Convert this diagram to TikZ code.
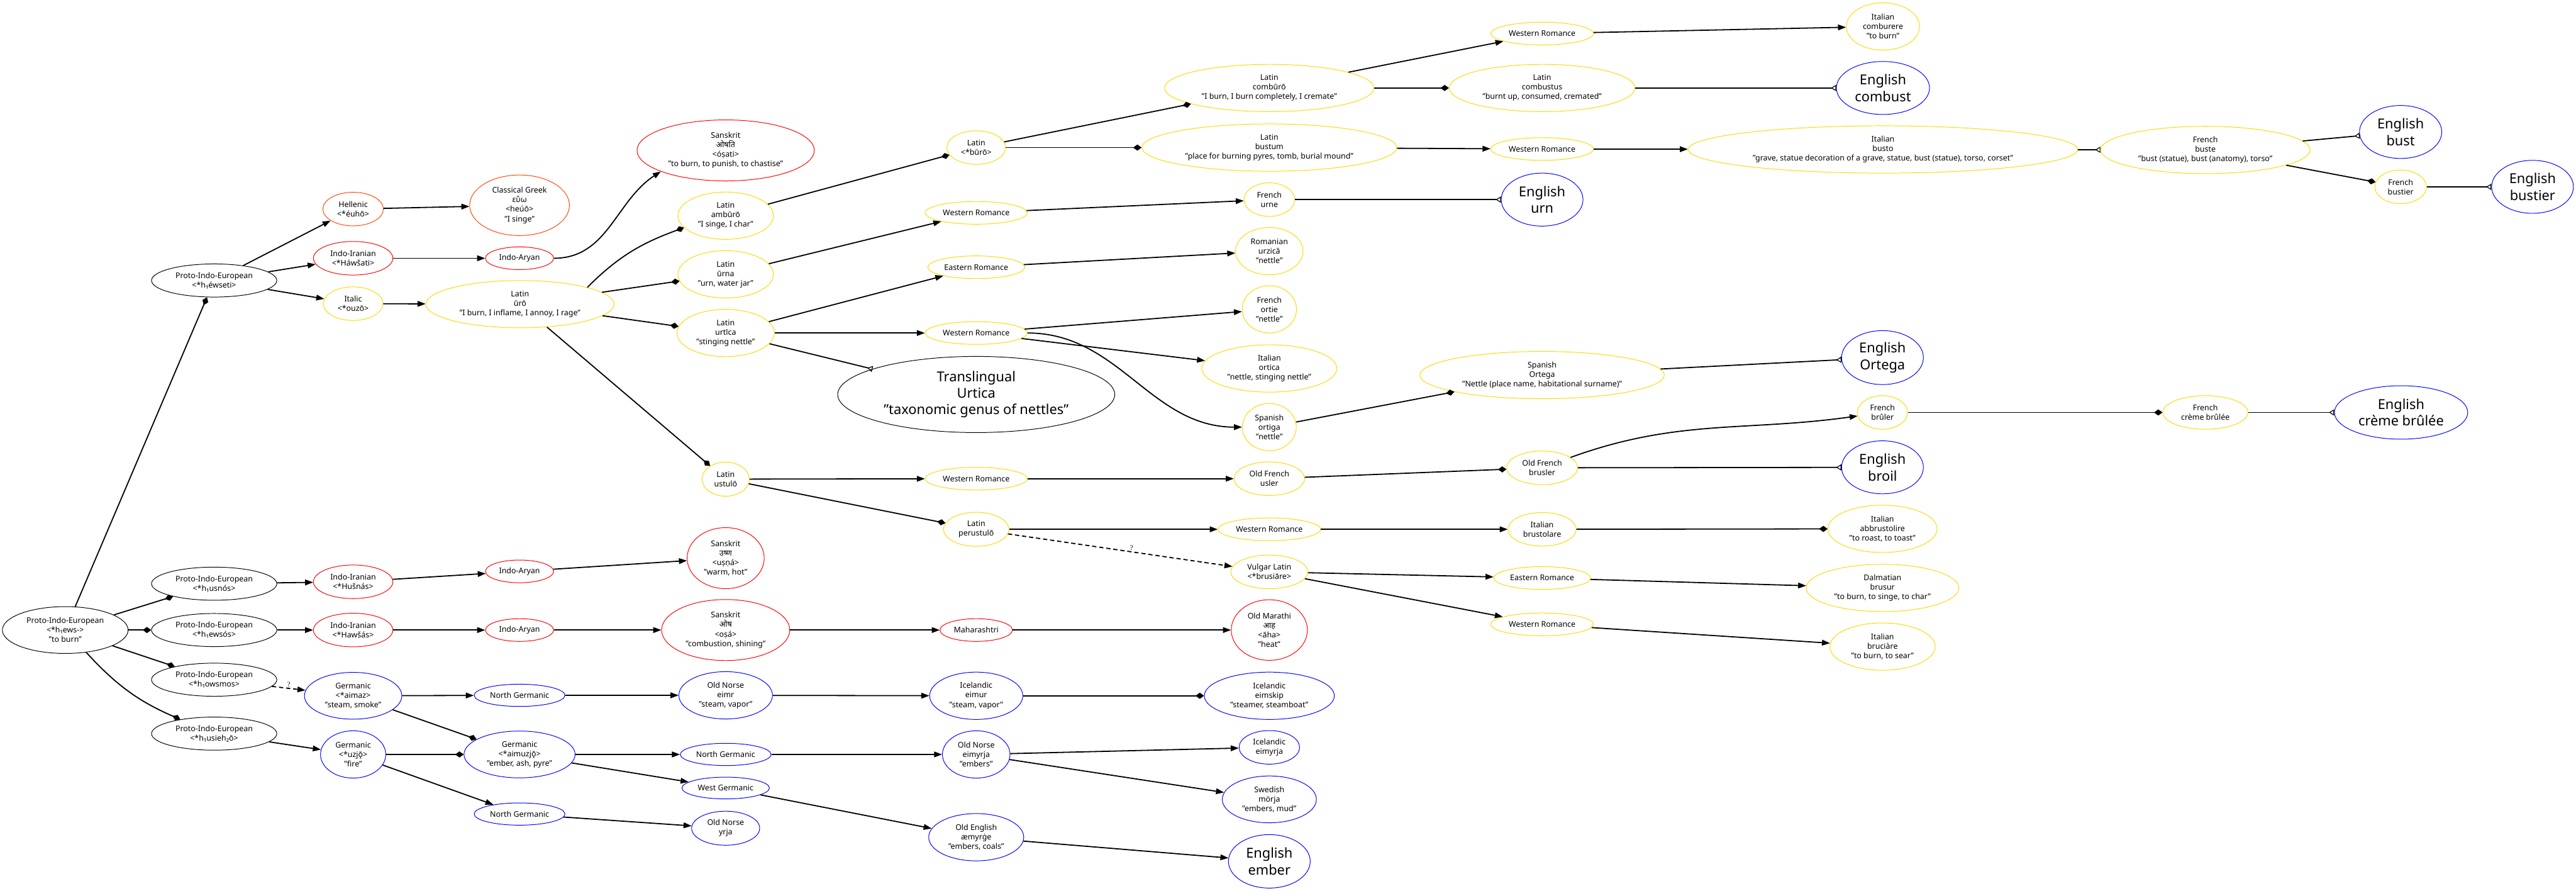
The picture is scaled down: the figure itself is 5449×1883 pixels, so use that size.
\documentclass[tikz,border=0pt]{standalone}
\usepackage{fontspec}
\setmainfont{Noto Sans}
\newfontfamily\devafont[Script=Devanagari]{Noto Sans}
\newfontfamily\qfont{Liberation Serif}
\usepackage{tikz}
\usetikzlibrary{
  arrows.meta,
  shapes.geometric
}
\definecolor{orangered}{HTML}{FF4500}
\definecolor{gold}{HTML}{FFD700}
\tikzset{
  lang/.style={
    ellipse,
    draw,
    line width=1.3pt,
    inner sep=1pt,
    align=center,
    font=\fontsize{16.5}{20}\selectfont
  },
  wh/.style 2 args={
    minimum width=#1pt,
    minimum height=#2pt
  },
  proto/.style={lang, draw=black},
  hel/.style={lang, draw=orangered},
  iir/.style={lang, draw=red},
  itc/.style={lang, draw=gold},
  gem/.style={lang, draw=blue},
  eng/.style={
    gem,
    font=\fontsize{29}{35}\selectfont
  },
  inh/.style={
    -{Triangle[length=17pt, width=12pt]},
    line width=2.4pt
  },
  der/.style={
    -{Diamond[length=18pt, width=13pt]},
    line width=2.4pt
  },
  bor/.style={
    -{Triangle[open, reversed, length=11pt, width=13pt, line width=1.6pt]},
    line width=2.4pt
  },
  unc/.style={
    inh,
    dash pattern=on 9pt off 6pt
  },
  qmark/.style={
    font=\qfont\fontsize{15}{15}\selectfont,
    inner sep=2pt
  }
}

\begin{document}
\begin{tikzpicture}[x=1pt,y=-1pt]
  \useasboundingbox (0,0) rectangle (5449,1883);

  % Proto-Indo-European roots.
  \node[proto, wh={266}{99}] (root) at (138,1332)
    {Proto-Indo-European\\<*h₁ews->\\"to burn"};
  \node[proto, wh={265}{70}] (pie1) at (453,593)
    {Proto-Indo-European\\<*h₁éwseti>};
  \node[proto, wh={265}{70}] (pie2) at (453,1234)
    {Proto-Indo-European\\<*h₁usnós>};
  \node[proto, wh={265}{70}] (pie3) at (453,1332)
    {Proto-Indo-European\\<*h₁ewsós>};
  \node[proto, wh={265}{70}] (pie4) at (453,1437)
    {Proto-Indo-European\\<*h₁owsmos>};
  \node[proto, wh={265}{70}] (pie5) at (453,1551)
    {Proto-Indo-European\\<*h₁usieh₂ō>};

  % Branch stems.
  \node[hel, wh={128}{71}] (hellenic) at (747,442) {Hellenic\\<*éuhō>};
  \node[iir, wh={168}{71}] (indoiran1) at (747,546) {Indo-Iranian\\<*Háwšati>};
  \node[itc, wh={126}{71}] (italic) at (747,642) {Italic\\<*ouzō>};
  \node[iir, wh={168}{71}] (indoiran2) at (747,1230) {Indo-Iranian\\<*Hušnás>};
  \node[iir, wh={168}{71}] (indoiran3) at (747,1332) {Indo-Iranian\\<*Hawšás>};
  \node[gem, wh={206}{99}] (germ1) at (747,1471)
    {Germanic\\<*aimaz>\\"steam, smoke"};
  \node[gem, wh={138}{100}] (germ2) at (747,1595)
    {Germanic\\<*uzjǭ>\\"fire"};

  % Third column.
  \node[hel, wh={211}{128}] (greek) at (1099,434)
    {Classical Greek\\εὕω\\<heúō>\\"I singe"};
  \node[iir, wh={144}{48}] (indoaryan1) at (1099,546) {Indo-Aryan};
  \node[itc, wh={398}{100}] (uro) at (1100,643)
    {Latin\\ūrō\\"I burn, I inflame, I annoy, I rage"};
  \node[iir, wh={144}{48}] (indoaryan2) at (1099,1208) {Indo-Aryan};
  \node[iir, wh={144}{48}] (indoaryan3) at (1099,1332) {Indo-Aryan};
  \node[gem, wh={192}{47}] (norgerm1) at (1099,1470) {North Germanic};
  \node[gem, wh={235}{99}] (germ3) at (1099,1595)
    {Germanic\\<*aimuzjǭ>\\"ember, ash, pyre"};
  \node[gem, wh={192}{47}] (norgerm3) at (1099,1721) {North Germanic};

  % Fourth column.
  \node[iir, wh={375}{129}] (sans1) at (1535,318)
    {Sanskrit\\{\devafont ओषति}\\<óṣati>\\"to burn, to punish, to chastise"};
  \node[itc, wh={202}{100}] (amburo) at (1535,456)
    {Latin\\ambūrō\\"I singe, I char"};
  \node[itc, wh={202}{100}] (urna) at (1535,580)
    {Latin\\ūrna\\"urn, water jar"};
  \node[itc, wh={206}{100}] (urtica) at (1535,704)
    {Latin\\urtīca\\"stinging nettle"};
  \node[itc, wh={100}{72}] (ustulo) at (1535,1013) {Latin\\ustulō};
  \node[iir, wh={163}{129}] (sans2) at (1535,1180)
    {Sanskrit\\{\devafont उष्ण}\\<uṣṇá>\\"warm, hot"};
  \node[iir, wh={271}{129}] (sans3) at (1535,1332)
    {Sanskrit\\{\devafont ओष}\\<oṣá>\\"combustion, shining"};
  \node[gem, wh={198}{100}] (oneimr) at (1535,1470)
    {Old Norse\\eimr\\"steam, vapor"};
  \node[gem, wh={192}{47}] (norgerm2) at (1535,1595) {North Germanic};
  \node[gem, wh={185}{46}] (westgerm) at (1535,1666) {West Germanic};
  \node[gem, wh={144}{72}] (onyrja) at (1535,1751) {Old Norse\\yrja};

  % Fifth column.
  \node[itc, wh={124}{71}] (buro) at (2065,312) {Latin\\<*būrō>};
  \node[itc, wh={216}{48}] (wrom1) at (2065,450) {Western Romance};
  \node[itc, wh={205}{48}] (erom1) at (2065,565) {Eastern Romance};
  \node[itc, wh={216}{48}] (wrom2) at (2065,704) {Western Romance};
  \node[lang, wh={586}{161}, font=\fontsize{29}{35}\selectfont] (trans)
    at (2065,834) {Translingual\\Urtica\\"taxonomic genus of nettles"};
  \node[itc, wh={216}{48}] (wrom3) at (2065,1012) {Western Romance};
  \node[itc, wh={138}{72}] (perustulo) at (2065,1119) {Latin\\perustulō};
  \node[iir, wh={153}{48}] (mahar) at (2065,1332) {Maharashtri};
  \node[gem, wh={197}{100}] (iceimur) at (2065,1471)
    {Icelandic\\eimur\\"steam, vapor"};
  \node[gem, wh={143}{100}] (oneimyrja) at (2065,1595)
    {Old Norse\\eimyrja\\"embers"};
  \node[gem, wh={201}{100}] (oeaemyrge) at (2065,1770)
    {Old English\\æmyrġe\\"embers, coals"};

  % Sixth column.
  \node[itc, wh={443}{100}] (comburo) at (2685,186)
    {Latin\\combūrō\\"I burn, I burn completely, I cremate"};
  \node[itc, wh={539}{100}] (bustum) at (2685,312)
    {Latin\\bustum\\"place for burning pyres, tomb, burial mound"};
  \node[itc, wh={107}{71}] (frurne) at (2685,422) {French\\urne};
  \node[itc, wh={143}{100}] (rourzica) at (2685,531)
    {Romanian\\urzică\\"nettle"};
  \node[itc, wh={115}{100}] (frortie) at (2685,654)
    {French\\ortie\\"nettle"};
  \node[itc, wh={286}{100}] (itortica) at (2685,779)
    {Italian\\ortica\\"nettle, stinging nettle"};
  \node[itc, wh={114}{100}] (esortiga) at (2685,903)
    {Spanish\\ortiga\\"nettle"};
  \node[itc, wh={149}{71}] (ofusler) at (2685,1012) {Old French\\usler};
  \node[itc, wh={217}{48}] (wrom4) at (2685,1119) {Western Romance};
  \node[itc, wh={163}{71}] (vlbrusiare) at (2685,1209)
    {Vulgar Latin\\<*brusiāre>};
  \node[iir, wh={161}{128}] (omarathi) at (2685,1332)
    {Old Marathi\\{\devafont आह}\\<āha>\\"heat"};
  \node[gem, wh={275}{100}] (iceimskip) at (2685,1471)
    {Icelandic\\eimskip\\"steamer, steamboat"};
  \node[gem, wh={128}{71}] (iceimyrja) at (2685,1580) {Icelandic\\eimyrja};
  \node[gem, wh={199}{99}] (swmorja) at (2685,1690)
    {Swedish\\mörja\\"embers, mud"};
  \node[eng, wh={173}{113}] (enember) at (2685,1821) {English\\ember};

  % Seventh column.
  \node[itc, wh={217}{48}] (wrom6) at (3262,71) {Western Romance};
  \node[itc, wh={393}{100}] (combustus) at (3262,186)
    {Latin\\combustus\\"burnt up, consumed, cremated"};
  \node[itc, wh={217}{48}] (wrom7) at (3262,315) {Western Romance};
  \node[eng, wh={173}{112}] (enurn) at (3262,422) {English\\urn};
  \node[itc, wh={517}{100}] (esortega) at (3262,793)
    {Spanish\\Ortega\\"Nettle (place name, habitational surname)"};
  \node[itc, wh={150}{71}] (ofbrusler) at (3262,989) {Old French\\brusler};
  \node[itc, wh={144}{71}] (itbrustolare) at (3262,1119)
    {Italian\\brustolare};
  \node[itc, wh={205}{48}] (erom2) at (3262,1222) {Eastern Romance};
  \node[itc, wh={217}{48}] (wrom5) at (3262,1320) {Western Romance};

  % Eighth column.
  \node[itc, wh={155}{100}] (itcomburere) at (3983,56)
    {Italian\\comburere\\"to burn"};
  \node[eng, wh={197}{112}] (encombust) at (3983,186) {English\\combust};
  \node[itc, wh={824}{100}] (itbusto) at (3983,316)
    {Italian\\busto\\"grave, statue decoration of a grave, statue, bust (statue), torso, corset"};
  \node[eng, wh={173}{114}] (enortega) at (3982,756) {English\\Ortega};
  \node[itc, wh={106}{71}] (frbruler) at (3982,872) {French\\brûler};
  \node[eng, wh={173}{112}] (enbroil) at (3982,988) {English\\broil};
  \node[itc, wh={231}{100}] (itabbrust) at (3982,1118)
    {Italian\\abbrustolire\\"to roast, to toast"};
  \node[itc, wh={323}{100}] (dalbrusur) at (3982,1243)
    {Dalmatian\\brusur\\"to burn, to singe, to char"};
  \node[itc, wh={223}{100}] (itbruciare) at (3982,1367)
    {Italian\\bruciàre\\"to burn, to sear"};

  % Last columns.
  \node[itc, wh={443}{100}] (frbuste) at (4665,317)
    {French\\buste\\"bust (statue), bust (anatomy), torso"};
  \node[itc, wh={180}{71}] (frcreme) at (4665,872) {French\\crème brûlée};
  \node[eng, wh={174}{112}] (enbust) at (5078,279) {English\\bust};
  \node[itc, wh={109}{71}] (frbustier) at (5078,395) {French\\bustier};
  \node[eng, wh={282}{113}] (encreme) at (5079,872) {English\\crème brûlée};
  \node[eng, wh={173}{112}] (enbustier) at (5357,395) {English\\bustier};

  % Root derivations.
  \draw[der] (root) -- (pie1);
  \draw[der] (root) -- (pie2);
  \draw[der] (root) -- (pie3);
  \draw[der] (root) -- (pie4);
  \draw[der] (root) to[bend right=12] (pie5);

  % Hellenic, Indo-Iranian, Italic.
  \draw[inh] (pie1) -- (hellenic);
  \draw[inh] (pie1) -- (indoiran1);
  \draw[inh] (pie1) -- (italic);
  \draw[inh] (hellenic) -- (greek);
  \draw[inh] (indoiran1) -- (indoaryan1);
  \draw[inh] (indoaryan1) to[out=0, in=213] (sans1.198);
  \draw[inh] (italic) -- (uro);
  \draw[inh] (pie2) -- (indoiran2);
  \draw[inh] (indoiran2) -- (indoaryan2);
  \draw[inh] (indoaryan2) -- (sans2);
  \draw[inh] (pie3) -- (indoiran3);
  \draw[inh] (indoiran3) -- (indoaryan3);
  \draw[inh] (indoaryan3) -- (sans3);
  \draw[inh] (sans3) -- (mahar);
  \draw[inh] (mahar) -- (omarathi);

  % Latin family.
  \draw[der] (uro.14) to[out=45, in=200] (amburo.196);
  \draw[der] (uro) -- (urna);
  \draw[der] (uro) -- (urtica);
  \draw[der] (uro) -- (ustulo);
  \draw[der] (amburo) -- (buro);
  \draw[inh] (urna) -- (wrom1);
  \draw[inh] (urtica) -- (erom1);
  \draw[inh] (urtica) -- (wrom2);
  \draw[bor] (urtica) -- (trans);
  \draw[der] (buro) -- (comburo);
  \draw[der] (buro) -- (bustum);
  \draw[inh] (wrom1) -- (frurne);
  \draw[inh] (erom1) -- (rourzica);
  \draw[inh] (wrom2) -- (frortie);
  \draw[inh] (wrom2) -- (itortica);
  \draw[inh] (wrom2) to[out=0, in=180] (esortiga);
  \draw[inh] (comburo) -- (wrom6);
  \draw[der] (comburo) -- (combustus);
  \draw[inh] (bustum) -- (wrom7);
  \draw[bor] (frurne) -- (enurn);
  \draw[der] (esortiga) -- (esortega);
  \draw[inh] (wrom6) -- (itcomburere);
  \draw[bor] (combustus) -- (encombust);
  \draw[inh] (wrom7) -- (itbusto);
  \draw[bor] (itbusto) -- (frbuste);
  \draw[bor] (frbuste) -- (enbust);
  \draw[der] (frbuste) -- (frbustier);
  \draw[bor] (frbustier) -- (enbustier);
  \draw[bor] (esortega) -- (enortega);
  \draw[inh] (ustulo) -- (wrom3);
  \draw[der] (ustulo) -- (perustulo);
  \draw[inh] (wrom3) -- (ofusler);
  \draw[der] (ofusler) -- (ofbrusler);
  \draw[inh] (ofbrusler) to[out=20, in=188] (frbruler);
  \draw[bor] (ofbrusler) -- (enbroil);
  \draw[der] (frbruler) -- (frcreme);
  \draw[bor] (frcreme) -- (encreme);
  \draw[inh] (perustulo) -- (wrom4);
  \draw[unc] (perustulo) -- node[qmark, above, pos=0.55] (qlat) {?} (vlbrusiare);
  \draw[inh] (wrom4) -- (itbrustolare);
  \draw[der] (itbrustolare) -- (itabbrust);
  \draw[inh] (vlbrusiare) -- (erom2);
  \draw[inh] (vlbrusiare) -- (wrom5);
  \draw[inh] (erom2) -- (dalbrusur);
  \draw[inh] (wrom5) -- (itbruciare);

  % Germanic family.
  \draw[unc] (pie4) -- node[qmark, above, pos=0.5] (qgem) {?} (germ1);
  \draw[inh] (pie5) -- (germ2);
  \draw[inh] (germ1) -- (norgerm1);
  \draw[der] (germ1) -- (germ3);
  \draw[der] (germ2) -- (germ3);
  \draw[inh] (germ2) -- (norgerm3);
  \draw[inh] (norgerm1) -- (oneimr);
  \draw[inh] (oneimr) -- (iceimur);
  \draw[der] (iceimur) -- (iceimskip);
  \draw[inh] (germ3) -- (norgerm2);
  \draw[inh] (germ3) -- (westgerm);
  \draw[inh] (norgerm2) -- (oneimyrja);
  \draw[inh] (oneimyrja) -- (iceimyrja);
  \draw[inh] (oneimyrja) -- (swmorja);
  \draw[inh] (westgerm) -- (oeaemyrge);
  \draw[inh] (oeaemyrge) -- (enember);
  \draw[inh] (norgerm3) -- (onyrja);
\end{tikzpicture}
\end{document}
